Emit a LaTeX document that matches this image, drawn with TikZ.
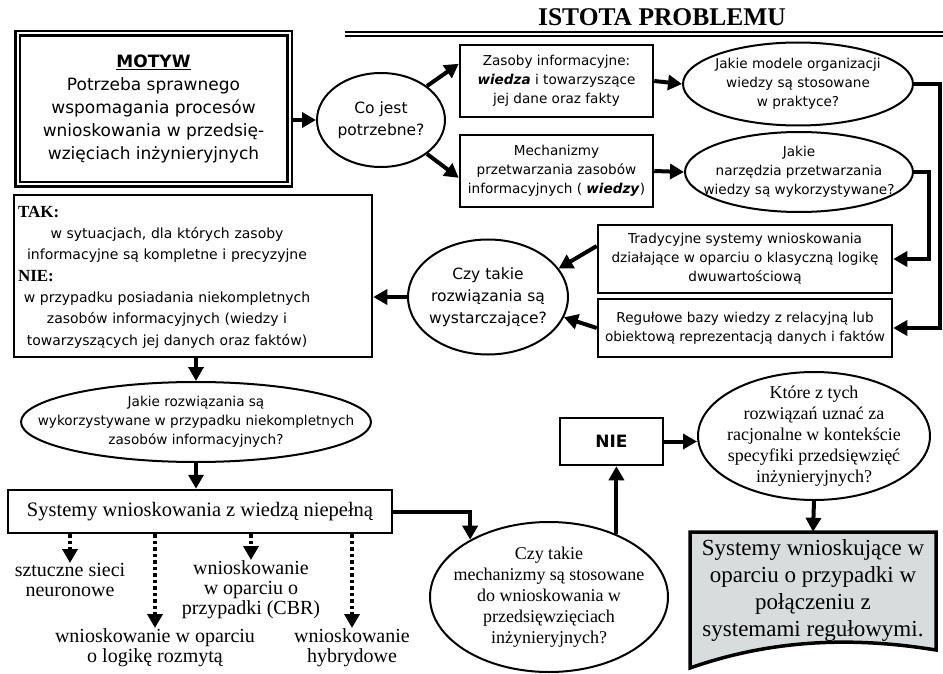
\documentclass[tikz,border=0pt]{standalone}
\usepackage{fontspec}
\setmainfont{Liberation Serif}
\newfontfamily\boxfont{DejaVu Sans}
\usepackage{tikz}
\usetikzlibrary{arrows.meta}
\usetikzlibrary{shapes.geometric}
\usetikzlibrary{calc}
\definecolor{docgray}{RGB}{216,220,220}
\tikzset{>={Triangle[length=14pt,width=15pt]}}
\tikzset{box/.style={draw, line width=2.5pt, fill=white, inner sep=0pt, align=center, font=\boxfont\fontsize{13.6}{19}\selectfont}}
\tikzset{oval/.style={draw, ellipse, line width=2pt, fill=white, inner sep=-60pt, align=center, font=\boxfont\fontsize{13.6}{19}\selectfont}}
\tikzset{arr/.style={->, line width=4pt}}
\tikzset{dotarr/.style={->, line width=3.5pt, dash pattern=on 3.5pt off 3pt}}
\tikzset{lbl/.style={align=center, inner sep=0pt, anchor=north, font=\rmfamily\fontsize{20}{20}\selectfont}}
\newcommand{\tnhead}[1]{\makebox[\linewidth][l]{\rmfamily\bfseries\fontsize{17}{21}\selectfont #1}}

\begin{document}
\begin{tikzpicture}[x=1pt,y=-1pt]
\useasboundingbox (0,0) rectangle (943,674);
\node[font=\rmfamily\bfseries\fontsize{25.5}{28}\selectfont] (title) at (662,17) {ISTOTA PROBLEMU};
\draw[line width=2.4pt] (345,32) -- (943,32);
\draw[line width=2pt] (345,36.5) -- (943,36.5);
\coordinate (rail1) at (940,0);
\coordinate (rail2) at (929,0);

\node[box, double, double distance=2pt, minimum width=272, minimum height=151, font=\boxfont\fontsize{17}{23}\selectfont] (motyw) at (153.5,109) {\underline{\textbf{MOTYW}}\\Potrzeba sprawnego\\wspomagania procesów\\wnioskowania w przedsię-\\wzięciach inżynieryjnych};
\node[oval, minimum width=128, minimum height=94, font=\boxfont\fontsize{15.5}{22}\selectfont] (co) at (381,120) {Co jest\\potrzebne?};
\node[box, minimum width=193, minimum height=72] (zasoby) at (556.5,81) {Zasoby informacyjne:\\\textbf{\textit{wiedza}} i towarzyszące\\jej dane oraz fakty};
\node[box, minimum width=193, minimum height=72] (mech) at (556.5,171) {Mechanizmy\\przetwarzania zasobów\\informacyjnych ( \textbf{\textit{wiedzy}})};
\node[oval, minimum width=230, minimum height=83] (modele) at (798,84) {Jakie modele organizacji\\wiedzy są stosowane\\w praktyce?};
\node[oval, minimum width=228, minimum height=80] (narz) at (799,172) {Jakie\\narzędzia przetwarzania\\wiedzy są wykorzystywane?};
\node[box, minimum width=294, minimum height=68] (trad) at (745,259) {Tradycyjne systemy wnioskowania\\działające w oparciu o klasyczną logikę\\dwuwartościową};
\node[box, minimum width=294, minimum height=58] (regul) at (745,328) {Regułowe bazy wiedzy z relacyjną lub\\obiektową reprezentacją danych i faktów};
\node[oval, minimum width=160, minimum height=115, font=\boxfont\fontsize{15.5}{22}\selectfont] (czy1) at (488,297) {Czy takie\\rozwiązania są\\wystarczające?};

\node[box, minimum width=358, minimum height=162] (tak) at (193,276) {};
\node[text width=298, align=center, inner sep=0pt, font=\boxfont\fontsize{14}{21.3}\selectfont] (taktxt) at (167,277) {\tnhead{TAK:}\\w sytuacjach, dla których zasoby\\informacyjne są kompletne i precyzyjne\\\tnhead{NIE:}\\w przypadku posiadania niekompletnych\\zasobów informacyjnych (wiedzy i\\towarzyszących jej danych oraz faktów)};
\node[oval, minimum width=350, minimum height=80] (jrozw) at (196,422) {Jakie rozwiązania są\\wykorzystywane w przypadku niekompletnych\\zasobów informacyjnych?};
\node[box, minimum width=384, minimum height=43, font=\rmfamily\fontsize{20.5}{24}\selectfont] (sysw) at (200,511.5) {Systemy wnioskowania z wiedzą niepełną};

\node[lbl] (szt) at (70,563) {sztuczne sieci\\neuronowe};
\node[lbl] (cbr) at (251,560) {wnioskowanie\\w oparciu o\\przypadki (CBR)};
\node[lbl] (fuzzy) at (155,628) {wnioskowanie w oparciu\\o logikę rozmytą};
\node[lbl] (hyb) at (352,628) {wnioskowanie\\hybrydowe};

\node[oval, minimum width=238, minimum height=150, font=\rmfamily\fontsize{18}{21}\selectfont] (czy2) at (549,597) {Czy takie\\mechanizmy są stosowane\\do wnioskowania w\\przedsięwzięciach\\inżynieryjnych?};
\node[box, minimum width=103, minimum height=47, font=\boxfont\bfseries\fontsize{17}{20}\selectfont] (nie) at (611.5,441.5) {NIE};
\node[oval, minimum width=232, minimum height=128, font=\rmfamily\fontsize{18}{21}\selectfont] (ktore) at (814,436) {Które z tych\\rozwiązań uznać za\\racjonalne w kontekście\\specyfiki przedsięwzięć\\inżynieryjnych?};

\draw[line width=3.5pt, fill=docgray] (690,532) -- (936,532) -- (936,650) .. controls (850,636) and (770,640) .. (690,668) -- cycle;
\node[align=center, inner sep=0pt, minimum height=116, font=\rmfamily\fontsize{23}{27}\selectfont] (doc) at (813,590) {Systemy wnioskujące w\\oparciu o przypadki w\\połączeniu z\\systemami regułowymi.};

\draw[arr] (motyw.east |- co.west) -- (co.west);
\draw[arr] (co.north east) -- (zasoby.170);
\draw[arr] (co.south east) -- (mech.184);
\draw[arr] (zasoby.east) -- (modele.west);
\draw[arr] (mech.east) -- (narz.west);
\draw[arr] (modele.east) -| (rail1 |- regul.east) -- (regul.east);
\draw[arr] (narz.east) -| (rail2 |- trad.east) -- (trad.east);
\draw[arr] (trad.175) -- (czy1.22);
\draw[arr] (regul.west) -- (czy1.-15);
\draw[arr] (czy1.west) -- (tak.east |- czy1.west);
\draw[arr] (jrozw.north |- tak.south) -- (jrozw.north);
\draw[arr] (jrozw.south) -- (jrozw.south |- sysw.north);
\draw[arr] (sysw.east) -| (czy2.144);
\draw[arr] (czy2.43) -- (czy2.43 |- nie.south);
\draw[arr] (nie.east) -- (nie.east -| ktore.west);
\draw[arr] (ktore.south) -- (doc.north);
\foreach \n in {szt,cbr,fuzzy,hyb}
 \draw[dotarr] (sysw.south -| \n.north) -- (\n.north);
\end{tikzpicture}
\end{document}
